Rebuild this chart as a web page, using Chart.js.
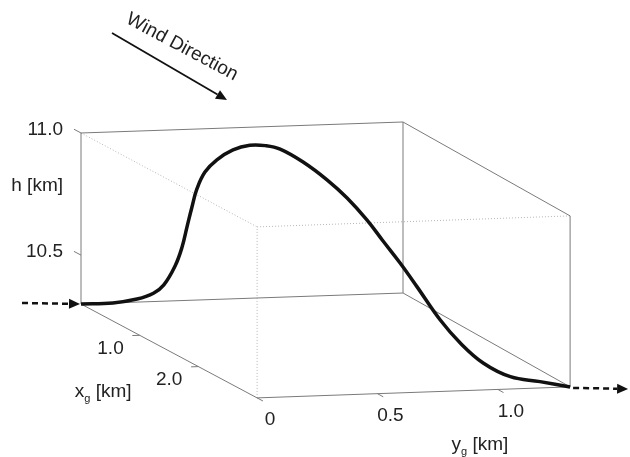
<!DOCTYPE html>
<html lang="en">
  <head>
    <meta charset="UTF-8" />
    <title>Flight path through wind</title>
    <style>
      body { margin: 0; background: #fff; }
      canvas { display: block; }
    </style>
  </head>
  <body>
    <canvas id="myChart" width="630" height="457"></canvas>

    <script src="https://cdn.jsdelivr.net/npm/chart.js"></script>
    <script>
      // axis ranges of the box
      const xgRange = [0, 3.0];
      const ygRange = [0, 1.3];
      const hRange = [10.3, 11.0];

      // tick values and their labels
      const hTicks = [10.5, 11.0];
      const hTickLabels = ["10.5", "11.0"];
      const xgTicks = [1.0, 2.0];
      const xgTickLabels = ["1.0", "2.0"];
      const ygTicks = [0, 0.5, 1.0];
      const ygTickLabels = ["0", "0.5", "1.0"];

      // trajectory
      const pathXg = [0, 0.19, 0.34, 0.44, 0.50, 0.57, 0.61, 0.64, 0.67, 0.70, 0.75, 0.82, 0.92, 1.02,
        1.12, 1.21, 1.35, 1.50, 1.62, 1.74, 1.84, 1.94, 2.05, 2.19, 2.32, 2.46, 2.63, 2.81, 3.0];
      const pathYg = [0, 0.084, 0.146, 0.189, 0.217, 0.246, 0.265, 0.278, 0.291, 0.304, 0.325, 0.357,
        0.399, 0.444, 0.484, 0.523, 0.584, 0.648, 0.701, 0.754, 0.797, 0.843, 0.888, 0.950, 1.003,
        1.065, 1.138, 1.219, 1.3];
      const pathH = [10.300, 10.326, 10.359, 10.394, 10.435, 10.520, 10.602, 10.688, 10.773, 10.850,
        10.925, 10.983, 11.035, 11.065, 11.075, 11.071, 11.034, 10.977, 10.917, 10.841, 10.766,
        10.688, 10.602, 10.483, 10.403, 10.337, 10.300, 10.300, 10.300];

      // simple oblique projection of (xg, yg, h) onto the screen plane
      const ORIGIN = { x: 81, y: 304 };
      const EX = { x: 58.7, y: 31.3 };
      const EY = { x: 247.7, y: -8.46 };
      const EXY = { x: -2.31, y: 0 };
      const EZ = { x: 0, y: -244.3 };
      function project(xg, yg, h) {
        const dh = h - hRange[0];
        return {
          x: ORIGIN.x + xg * EX.x + yg * EY.x + xg * yg * EXY.x + dh * EZ.x,
          y: ORIGIN.y + xg * EX.y + yg * EY.y + xg * yg * EXY.y + dh * EZ.y,
        };
      }

      const [x0, x1] = xgRange, [y0, y1] = ygRange, [h0, h1] = hRange;
      const solidEdges = [
        [[x0, y0, h0], [x1, y0, h0]],
        [[x1, y0, h0], [x1, y1, h0]],
        [[x0, y0, h0], [x0, y1, h0]],
        [[x0, y1, h0], [x1, y1, h0]],
        [[x0, y0, h0], [x0, y0, h1]],
        [[x0, y1, h0], [x0, y1, h1]],
        [[x1, y1, h0], [x1, y1, h1]],
        [[x0, y0, h1], [x0, y1, h1]],
        [[x0, y1, h1], [x1, y1, h1]],
      ];
      const hiddenEdges = [
        [[x0, y0, h1], [x1, y0, h1]],
        [[x1, y0, h1], [x1, y1, h1]],
        [[x1, y0, h0], [x1, y0, h1]],
      ];

      // small tick segments
      const tickSegs = [];
      hTicks.forEach((v) => tickSegs.push([[x0, y0, v], [x0 - 0.12, y0, v]]));
      xgTicks.forEach((v) => tickSegs.push([[v, y0, h0], [v, y0 - 0.03, h0]]));
      ygTicks.forEach((v) => tickSegs.push([[x1, v, h0], [x1 + 0.1, v, h0]]));

      const seg = (s) => s.map((p) => project(p[0], p[1], p[2]));

      const datasets = [];
      datasets.push({
        data: pathXg.map((v, i) => project(v, pathYg[i], pathH[i])),
        borderColor: "#111",
        borderWidth: 3.5,
        tension: 0.4,
        showLine: true,
        pointRadius: 0,
      });
      solidEdges.concat(tickSegs).forEach((s) =>
        datasets.push({ data: seg(s), borderColor: "#7a7a7a", borderWidth: 1, showLine: true, pointRadius: 0 })
      );
      hiddenEdges.forEach((s) =>
        datasets.push({ data: seg(s), borderColor: "#b5b5b5", borderWidth: 1, borderDash: [1, 2], showLine: true, pointRadius: 0 })
      );

      const FONT = "19px 'Liberation Sans', Arial, sans-serif";
      const SUBFONT = "11px 'Liberation Sans', Arial, sans-serif";

      function arrow(ctx, ax, ay, bx, by, dash, width) {
        const ang = Math.atan2(by - ay, bx - ax);
        const hl = 11, hw = 5;
        ctx.save();
        ctx.strokeStyle = "#111";
        ctx.fillStyle = "#111";
        ctx.lineWidth = width;
        ctx.setLineDash(dash);
        ctx.beginPath();
        ctx.moveTo(ax, ay);
        ctx.lineTo(bx - hl * Math.cos(ang), by - hl * Math.sin(ang));
        ctx.stroke();
        ctx.setLineDash([]);
        ctx.beginPath();
        ctx.moveTo(bx, by);
        ctx.lineTo(bx - hl * Math.cos(ang) + hw * Math.sin(ang), by - hl * Math.sin(ang) - hw * Math.cos(ang));
        ctx.lineTo(bx - hl * Math.cos(ang) - hw * Math.sin(ang), by - hl * Math.sin(ang) + hw * Math.cos(ang));
        ctx.closePath();
        ctx.fill();
        ctx.restore();
      }

      function subLabel(ctx, main, sub, rest, x, y) {
        ctx.font = FONT;
        ctx.textAlign = "left";
        ctx.textBaseline = "middle";
        ctx.fillText(main, x, y);
        let w = ctx.measureText(main).width;
        ctx.font = SUBFONT;
        ctx.fillText(sub, x + w, y + 7);
        w += ctx.measureText(sub).width;
        ctx.font = FONT;
        ctx.fillText(rest, x + w, y);
      }

      const labelsPlugin = {
        id: "labels3d",
        afterDraw(chart) {
          const ctx = chart.ctx;
          const sx = chart.scales.x, sy = chart.scales.y;
          const px = (p) => ({ x: sx.getPixelForValue(p.x), y: sy.getPixelForValue(p.y) });
          ctx.save();
          ctx.fillStyle = "#222";
          ctx.font = FONT;
          ctx.textBaseline = "middle";

          ctx.textAlign = "right";
          hTicks.forEach((v, i) => {
            const p = px(project(x0, y0, v));
            ctx.fillText(hTickLabels[i], p.x - 18, p.y - 3);
          });
          const hp = px(project(x0, y0, 10.785));
          ctx.fillText("h [km]", hp.x - 18, hp.y);

          xgTicks.forEach((v, i) => {
            const p = px(project(v, y0, h0));
            ctx.fillText(xgTickLabels[i], p.x - 16, p.y + 13);
          });
          ctx.textAlign = "center";
          ygTicks.forEach((v, i) => {
            const p = px(project(x1, v, h0));
            ctx.fillText(ygTickLabels[i], p.x + 13, p.y + 22);
          });

          ctx.fillStyle = "#222";
          const xl = px(project(2.5, y0, h0));
          subLabel(ctx, "x", "g", " [km]", xl.x - 153, xl.y + 10);
          const yl = px(project(x1, 0.82, h0));
          subLabel(ctx, "y", "g", " [km]", yl.x - 3, yl.y + 54);

          // trajectory continues outside the box
          const first = px(project(pathXg[0], pathYg[0], pathH[0]));
          const last = px(project(pathXg[pathXg.length - 1], pathYg[pathYg.length - 1], pathH[pathH.length - 1]));
          arrow(ctx, first.x - 59, first.y - 1, first.x - 1, first.y, [6, 4], 2.5);
          arrow(ctx, last.x + 3, last.y + 1, last.x + 58, last.y + 2, [6, 4], 2.5);

          // wind direction
          arrow(ctx, 112, 33, 227, 100, [], 1.8);
          ctx.save();
          ctx.translate(182, 47);
          ctx.rotate((28 * Math.PI) / 180);
          ctx.font = FONT;
          ctx.fillStyle = "#222";
          ctx.textAlign = "center";
          ctx.textBaseline = "middle";
          ctx.fillText("Wind Direction", 0, 0);
          ctx.restore();
          ctx.restore();
        },
      };

      new Chart(document.getElementById("myChart"), {
        type: "scatter",
        data: { datasets: datasets },
        options: {
          responsive: false,
          animation: false,
          layout: { padding: 0 },
          plugins: { legend: { display: false }, tooltip: { enabled: false } },
          scales: {
            x: { type: "linear", min: 0, max: 630, display: false },
            y: { type: "linear", min: 0, max: 457, reverse: true, display: false },
          },
        },
        plugins: [labelsPlugin],
      });
    </script>
  </body>
</html>
